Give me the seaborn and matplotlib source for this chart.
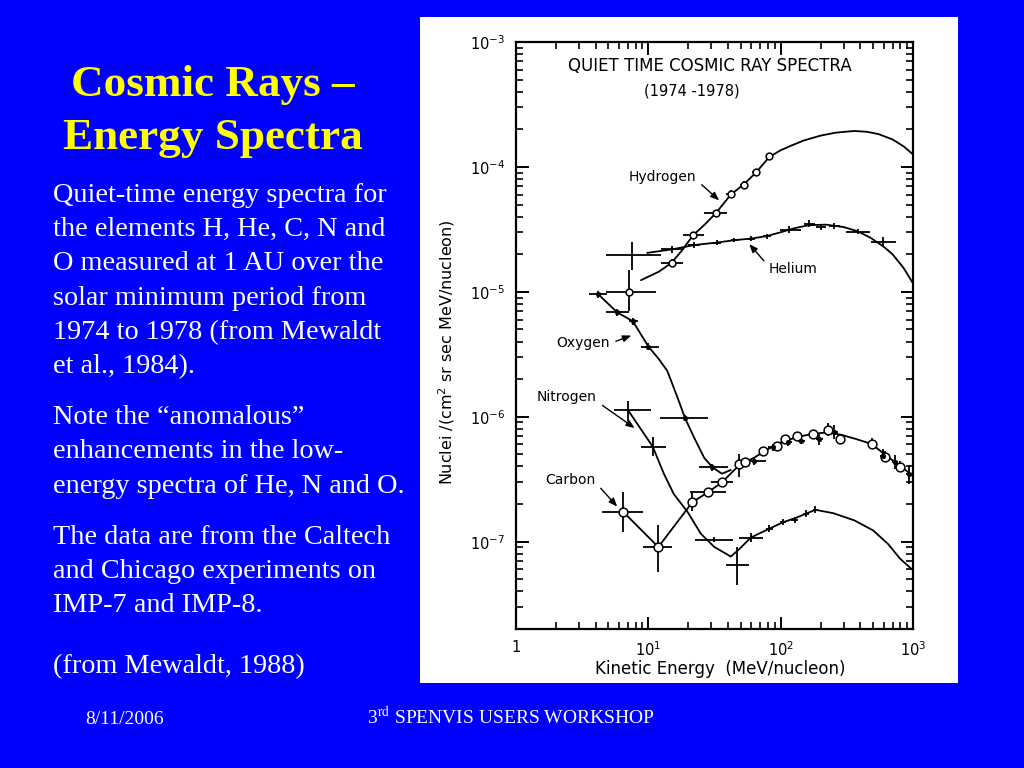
import matplotlib
matplotlib.use("Agg")
import matplotlib.pyplot as plt
import seaborn as sns
import numpy as np
from matplotlib.patches import Rectangle
from matplotlib.ticker import LogLocator, NullFormatter, FixedLocator, FixedFormatter

# ===============================
# DADOS
# ===============================
# Hidrogênio
h_e = [7.1, 15.0, 21.8, 32.4, 42.0, 53.0, 65.0, 82.0]
h_f = [1.0e-5, 1.71e-5, 2.84e-5, 4.27e-5, 6.03e-5, 7.23e-5, 9.08e-5, 1.23e-4]
h_elo = [4.75, 12.4, 18.2, 26.4, 38.5, 49.0, 61.0, 77.0]
h_ehi = [11.4, 18.2, 26.4, 39.5, 45.5, 57.0, 69.0, 87.0]
h_flo = [7.0e-6, 1.6e-5, 2.7e-5, 4.1e-5, 5.6e-5, 6.8e-5, 8.5e-5, 1.17e-4]
h_fhi = [1.5e-5, 1.83e-5, 2.98e-5, 4.45e-5, 6.5e-5, 7.7e-5, 9.7e-5, 1.3e-4]

# Hélio
he_e = [7.56, 15.2, 22.2, 32.9, 44.6, 59.6, 78.3, 116, 165, 202, 255, 383, 593]
he_f = [1.97e-5, 2.19e-5, 2.37e-5, 2.48e-5, 2.59e-5, 2.67e-5, 2.79e-5, 3.15e-5, 3.52e-5, 3.31e-5, 3.35e-5, 3.02e-5, 2.51e-5]
he_elo = [4.75, 12.4, 20.0, 30.5, 42.0, 56.0, 73.0, 98.0, 150, 186, 233, 312, 483]
he_ehi = [12.4, 18.6, 24.5, 35.5, 47.5, 63.5, 84.0, 142, 182, 220, 280, 470, 748]
he_flo = [1.5e-5, 2.05e-5, 2.25e-5, 2.37e-5, 2.5e-5, 2.57e-5, 2.67e-5, 2.95e-5, 3.3e-5, 3.12e-5, 3.18e-5, 2.88e-5, 2.3e-5]
he_fhi = [2.52e-5, 2.33e-5, 2.5e-5, 2.6e-5, 2.68e-5, 2.78e-5, 2.92e-5, 3.35e-5, 3.75e-5, 3.52e-5, 3.55e-5, 3.18e-5, 2.75e-5]

# Oxigênio
o_e = [4.18, 5.82, 7.65, 10.0, 18.9, 30.5, 63.2, 87.0, 113, 143, 196, 255, 593, 726, 927]
o_f = [9.57e-6, 6.85e-6, 5.81e-6, 3.65e-6, 9.8e-7, 3.94e-7, 4.46e-7, 5.69e-7, 6.24e-7, 6.44e-7, 6.64e-7, 7.5e-7, 4.89e-7, 4.32e-7, 3.49e-7]
o_elo = [3.55, 4.75, 7.1, 8.75, 12.3, 24.2, 51.5, 80.0, 105, 135, 185, 240, 560, 690, 880]
o_ehi = [4.89, 7.1, 8.3, 12.0, 28.0, 39.7, 77.0, 95.0, 121, 152, 208, 272, 630, 765, 975]
o_flo = [9.0e-6, 6.4e-6, 5.4e-6, 3.4e-6, 9.3e-7, 3.7e-7, 4.1e-7, 5.3e-7, 5.8e-7, 6.0e-7, 5.9e-7, 6.6e-7, 4.4e-7, 3.8e-7, 2.9e-7]
o_fhi = [1.01e-5, 7.3e-6, 6.2e-6, 3.9e-6, 1.03e-6, 4.2e-7, 4.8e-7, 6.1e-7, 6.7e-7, 6.9e-7, 7.4e-7, 8.6e-7, 5.5e-7, 4.9e-7, 4.1e-7]

# Carbono
c_e = [6.47, 11.9, 21.5, 28.3, 36.0, 48.6, 53.7, 73.1, 93.8, 108, 134, 175, 227, 283, 489, 610, 801]
c_f = [1.73e-7, 9.06e-8, 2.07e-7, 2.49e-7, 2.99e-7, 4.19e-7, 4.32e-7, 5.36e-7, 5.87e-7, 6.63e-7, 7.05e-7, 7.27e-7, 7.83e-7, 6.64e-7, 6.05e-7, 4.80e-7, 3.99e-7]
c_elo = [4.48, 9.17, 20.0, 20.7, 29.5, 45.0, 51.0, 69.0, 89.0, 103, 128, 167, 217, 270, 470, 585, 770]
c_ehi = [9.17, 15.2, 23.0, 38.4, 44.0, 52.5, 56.5, 77.0, 99.0, 113, 140, 183, 237, 296, 508, 635, 830]
c_flo = [1.19e-7, 5.73e-8, 1.75e-7, 2.35e-7, 2.75e-7, 3.3e-7, 4.05e-7, 5.0e-7, 5.5e-7, 6.1e-7, 6.5e-7, 6.7e-7, 7.0e-7, 6.2e-7, 5.5e-7, 4.4e-7, 3.6e-7]
c_fhi = [2.49e-7, 1.35e-7, 2.45e-7, 2.64e-7, 3.25e-7, 5.0e-7, 4.6e-7, 5.7e-7, 6.2e-7, 7.1e-7, 7.6e-7, 7.9e-7, 8.9e-7, 7.1e-7, 6.7e-7, 5.3e-7, 4.4e-7]

# Nitrogênio
n_e = [7.02, 10.8, 31.1, 46.7, 59.6, 82.0, 104, 128, 156, 183]
n_f = [1.13e-6, 5.76e-7, 1.04e-7, 6.47e-8, 1.08e-7, 1.27e-7, 1.44e-7, 1.48e-7, 1.67e-7, 1.80e-7]
n_elo = [5.5, 8.75, 22.4, 38.5, 48.6, 77.0, 98.0, 120, 148, 175]
n_ehi = [10.4, 13.5, 43.3, 57.9, 73.0, 88.0, 110, 136, 165, 192]
n_flo = [9.3e-7, 4.89e-7, 9.9e-8, 4.49e-8, 1.0e-7, 1.2e-7, 1.36e-7, 1.4e-7, 1.57e-7, 1.7e-7]
n_fhi = [1.34e-6, 6.84e-7, 1.09e-7, 9.06e-8, 1.17e-7, 1.35e-7, 1.53e-7, 1.57e-7, 1.78e-7, 1.92e-7]

# Curvas desenhadas
h_curve_e = [8.8, 12.0, 15.0, 18.0, 21.8, 27.0, 32.4, 42.0, 53.0, 65.0, 82.0, 100, 120, 150, 200, 260, 360, 450, 550, 700, 850, 1000]
h_curve_f = [1.24e-5, 1.45e-5, 1.71e-5, 2.15e-5, 2.84e-5, 3.5e-5, 4.27e-5, 6.0e-5, 7.3e-5, 9.0e-5, 1.2e-4, 1.36e-4, 1.48e-4, 1.63e-4, 1.78e-4, 1.88e-4, 1.94e-4, 1.91e-4, 1.83e-4, 1.66e-4, 1.46e-4, 1.26e-4]

he_curve_e = [9.8, 15.2, 22.2, 32.9, 44.6, 59.6, 78.3, 100, 130, 165, 220, 300, 383, 480, 600, 700, 850, 1000]
he_curve_f = [2.05e-5, 2.19e-5, 2.37e-5, 2.48e-5, 2.59e-5, 2.67e-5, 2.79e-5, 3.0e-5, 3.25e-5, 3.42e-5, 3.45e-5, 3.3e-5, 3.05e-5, 2.7e-5, 2.3e-5, 2.0e-5, 1.55e-5, 1.17e-5]

o_curve_e = [4.18, 5.82, 7.65, 10.0, 12.0, 13.9, 16.6, 18.9, 22.2, 26.4, 30.5, 36.0, 42.0]
o_curve_f = [9.57e-6, 6.85e-6, 5.81e-6, 3.65e-6, 2.9e-6, 2.33e-6, 1.43e-6, 9.8e-7, 6.8e-7, 4.7e-7, 3.94e-7, 3.5e-7, 3.75e-7]

co_curve_e = [21.5, 28.3, 36.0, 48.6, 63.0, 80.0, 100, 134, 175, 227, 283, 360, 489, 610, 800, 1000]
co_curve_f = [2.07e-7, 2.49e-7, 2.99e-7, 4.1e-7, 4.7e-7, 5.5e-7, 6.2e-7, 6.9e-7, 7.3e-7, 7.5e-7, 7.2e-7, 6.7e-7, 6.05e-7, 5.0e-7, 4.05e-7, 3.35e-7]

c_seg_e = [6.47, 11.9, 21.5]
c_seg_f = [1.73e-7, 9.06e-8, 2.07e-7]

n_curve_e = [7.02, 10.8, 13.1, 15.6, 19.8, 24.9, 31.4, 42.0, 48.0, 59.6, 82.0, 104, 130, 183, 250, 361, 500, 647, 800, 1000]
n_curve_f = [1.13e-6, 5.76e-7, 3.5e-7, 2.4e-7, 1.73e-7, 1.16e-7, 9.1e-8, 7.6e-8, 8.6e-8, 1.08e-7, 1.27e-7, 1.43e-7, 1.55e-7, 1.8e-7, 1.69e-7, 1.48e-7, 1.23e-7, 9.6e-8, 7.3e-8, 5.9e-8]

# Textos do slide
titulo = ["Cosmic Rays \u2013", "Energy Spectra"]
paragrafos = [
    ["Quiet-time energy spectra for", "the elements H, He, C, N and", "O measured at 1 AU over the",
     "solar minimum period from", "1974 to 1978 (from Mewaldt", "et al., 1984)."],
    ["Note the \u201canomalous\u201d", "enhancements in the low-", "energy spectra of He, N and O."],
    ["The data are from the Caltech", "and Chicago experiments on", "IMP-7 and IMP-8."],
    ["(from Mewaldt, 1988)"],
]

# ===============================
# FIGURA
# ===============================
sns.set_style("ticks")
plt.rcParams['font.family'] = ['DejaVu Sans']
plt.rcParams['text.color'] = 'black'
plt.rcParams['axes.labelcolor'] = 'black'
plt.rcParams['xtick.color'] = 'black'
plt.rcParams['ytick.color'] = 'black'

AZUL = '#0000FF'
fig = plt.figure(figsize=(10.24, 7.68), dpi=100, facecolor=AZUL)

def px(x, y):
    return x / 1024, 1 - y / 768

# painel branco (atrás do gráfico)
fig.patches.append(Rectangle((420 / 1024, 1 - 683 / 768), 538 / 1024, 666 / 768,
                             transform=fig.transFigure, facecolor='white', edgecolor='none', zorder=-5))

# título
for linha, yb in zip(titulo, [96, 149]):
    fig.text(*px(213, yb), linha, ha='center', va='baseline', color='#FFFF00',
             fontsize=32.5, fontweight='bold', family='Liberation Serif')

# texto
linhas_y = [[202, 236, 270, 305, 339, 373], [424, 458, 493], [544, 578, 612], [673]]
for par, ys in zip(paragrafos, linhas_y):
    for linha, yb in zip(par, ys):
        fig.text(*px(53, yb), linha, ha='left', va='baseline', color='white',
                 fontsize=20.3, family='Liberation Serif')

# rodapé
fig.text(*px(85, 724), '8/11/2006', color='white', fontsize=14, family='Liberation Serif', va='baseline')
fig.text(*px(367, 724), r'3$^{\mathrm{rd}}$ SPENVIS USERS WORKSHOP', color='white', fontsize=14,
         family='Liberation Serif', math_fontfamily='stix', va='baseline')

# ===============================
# GRÁFICO
# ===============================
ax = fig.add_axes([516 / 1024, 1 - 629 / 768, 397 / 1024, 587 / 768])
ax.set_zorder(2)
ax.set_facecolor('white')
ax.set_xscale('log')
ax.set_yscale('log')


def barras(e, f, elo, ehi, flo, fhi):
    e = np.array(e); f = np.array(f)
    ax.errorbar(e, f, xerr=[e - np.array(elo), np.array(ehi) - e],
                yerr=[f - np.array(flo), np.array(fhi) - f],
                fmt='none', ecolor='black', elinewidth=1.3, capsize=0, zorder=3)


def curva(e, f):
    sns.lineplot(x=e, y=f, ax=ax, color='black', lw=1.3, sort=False, estimator=None, zorder=2)


curva(h_curve_e, h_curve_f)
curva(he_curve_e, he_curve_f)
curva(o_curve_e, o_curve_f)
curva(co_curve_e, co_curve_f)
curva(c_seg_e, c_seg_f)
curva(n_curve_e, n_curve_f)

barras(h_e, h_f, h_elo, h_ehi, h_flo, h_fhi)
barras(he_e, he_f, he_elo, he_ehi, he_flo, he_fhi)
barras(o_e, o_f, o_elo, o_ehi, o_flo, o_fhi)
barras(c_e, c_f, c_elo, c_ehi, c_flo, c_fhi)
barras(n_e, n_f, n_elo, n_ehi, n_flo, n_fhi)

sns.scatterplot(x=h_e, y=h_f, ax=ax, marker='o', s=24, facecolor='white', edgecolor='black', linewidth=1.1, zorder=4)
sns.scatterplot(x=c_e, y=c_f, ax=ax, marker='o', s=40, facecolor='white', edgecolor='black', linewidth=1.1, zorder=4)
sns.scatterplot(x=o_e, y=o_f, ax=ax, marker='o', s=12, color='black', edgecolor='black', zorder=4)

ax.set_xlim(1, 1000)
ax.set_ylim(2e-8, 1e-3)

ax.xaxis.set_major_locator(FixedLocator([1, 10, 100, 1000]))
ax.xaxis.set_major_formatter(FixedFormatter(['1', r'$10^{1}$', r'$10^{2}$', r'$10^{3}$']))
ax.yaxis.set_major_locator(FixedLocator([1e-7, 1e-6, 1e-5, 1e-4, 1e-3]))
ax.yaxis.set_major_formatter(FixedFormatter([r'$10^{-7}$', r'$10^{-6}$', r'$10^{-5}$', r'$10^{-4}$', r'$10^{-3}$']))
ax.xaxis.set_minor_locator(LogLocator(base=10, subs=np.arange(2, 10), numticks=20))
ax.yaxis.set_minor_locator(LogLocator(base=10, subs=np.arange(2, 10), numticks=20))
ax.xaxis.set_minor_formatter(NullFormatter())
ax.yaxis.set_minor_formatter(NullFormatter())

ax.tick_params(which='both', direction='in', top=True, right=True, color='black', labelcolor='black', labelsize=10.5)
ax.tick_params(which='major', length=9, width=1.4, pad=8)
ax.tick_params(which='minor', length=5, width=1.2)
for s in ax.spines.values():
    s.set_linewidth(1.6)
    s.set_color('black')

ax.set_xlabel('Kinetic Energy  (MeV/nucleon)', fontsize=12, color='black')
ax.set_ylabel(r'Nuclei /(cm$^2$ sr sec MeV/nucleon)', fontsize=11.5, color='black')
ax.xaxis.set_label_coords(0.514, -0.052)
ax.yaxis.set_label_coords(-0.148, 0.472)

ax.text(0.489, 0.959, 'QUIET TIME COSMIC RAY SPECTRA', transform=ax.transAxes, ha='center', va='center',
        fontsize=12, color='black')
ax.text(0.443, 0.917, '(1974 -1978)', transform=ax.transAxes, ha='center', va='center', fontsize=10.5, color='black')

# rótulos com setas
seta = dict(arrowstyle='-|>,head_length=0.5,head_width=0.2', color='black', lw=1.0, shrinkA=2, shrinkB=0)
ax.annotate('Hydrogen', xy=(34.3, 5.4e-5), xytext=(12.8, 8.28e-5), ha='center', va='center', fontsize=10,
            color='black', arrowprops=dict(seta, relpos=(1, 0.3)))
ax.annotate('Helium', xy=(57.9, 2.41e-5), xytext=(125, 1.51e-5), ha='center', va='center', fontsize=10,
            color='black', arrowprops=dict(seta, relpos=(0, 0.7)))
ax.annotate('Oxygen', xy=(7.43, 4.47e-6), xytext=(3.22, 3.86e-6), ha='center', va='center', fontsize=10,
            color='black', arrowprops=dict(seta, relpos=(1, 0.5)))
ax.annotate('Nitrogen', xy=(7.88, 8.12e-7), xytext=(2.43, 1.43e-6), ha='center', va='center', fontsize=10,
            color='black', arrowprops=dict(seta, relpos=(1, 0.2)))
ax.annotate('Carbon', xy=(5.82, 1.91e-7), xytext=(2.58, 3.13e-7), ha='center', va='center', fontsize=10,
            color='black', arrowprops=dict(seta, relpos=(1, 0.3)))

fig.savefig('out.png', dpi=100, facecolor=AZUL)
